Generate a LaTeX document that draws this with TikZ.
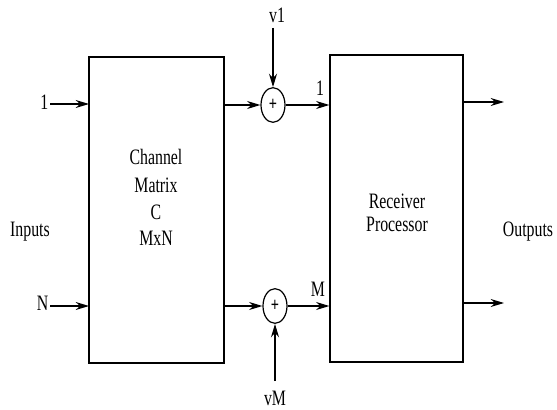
\documentclass[tikz,border=0pt]{standalone}
\usepackage{fontspec}
\setmainfont{Liberation Serif}[FakeStretch=0.72]
\usetikzlibrary{arrows.meta,shapes.geometric}
\begin{document}
\begin{tikzpicture}[x=0.75pt,y=-0.75pt,
  blk/.style={draw,line width=0.9pt,inner sep=0pt},
  sumnode/.style={draw,line width=0.9pt,ellipse,inner sep=0pt,minimum width=18pt,minimum height=26pt},
  arr/.style={line width=0.9pt,-{Stealth[length=10pt,width=6pt]}},
  lbl/.style={font=\fontsize{16.5}{18}\selectfont,inner sep=1pt}]
\useasboundingbox (0,0) rectangle (557,410);
% blocks
\node[blk,minimum width=101.25pt,minimum height=229.5pt] (ch) at (156.5,210) {};
\node[blk,minimum width=99.75pt,minimum height=230.25pt] (rx) at (396.5,208.5) {};
\node[lbl] at (156,157) {Channel};
\node[lbl] at (156,185) {Matrix};
\node[lbl] at (156,212) {C};
\node[lbl] at (156,238) {MxN};
\node[lbl] at (397,201) {Receiver};
\node[lbl] at (397,224) {Processor};
% summers
\node[sumnode] (s1) at (273,105) {\fontsize{15}{15}\selectfont\bfseries +};
\node[sumnode] (s2) at (275,306) {\fontsize{15}{15}\selectfont\bfseries +};
% inputs
\node[lbl,anchor=east] (i1) at (50,102) {1};
\node[lbl,anchor=east] (iN) at (50,303) {N};
\coordinate (c1in) at (89,104);
\coordinate (cNin) at (89,306);
\draw[arr] (i1.east |- c1in) -- (c1in);
\draw[arr] (iN.east |- cNin) -- (cNin);
\node[lbl] (inp) at (30,232) {Inputs};
% to summers
\draw[arr] (ch.east |- s1) -- (s1.west);
\draw[arr] (ch.east |- s2) -- (s2.west);
% noise
\node[lbl] (v1) at (277,15) {v1};
\node[lbl] (vM) at (275,398) {vM};
\coordinate (v1t) at (273,28);
\draw[arr] (v1t) -- (s1.north);
\coordinate (vMb) at (275,381);
\draw[arr] (vMb) -- (s2.south);
% to receiver
\draw[arr] (s1.east) -- (rx.west |- s1);
\draw[arr] (s2.east) -- (rx.west |- s2);
\node[lbl] at (320,88) {1};
\node[lbl] at (318,289) {M};
% outputs
\coordinate (o1) at (504,102);
\coordinate (o2) at (504,303);
\draw[arr] (rx.east |- o1) -- (o1);
\draw[arr] (rx.east |- o2) -- (o2);
\node[lbl] (outp) at (528,232) {Outputs};
\end{tikzpicture}
\end{document}
